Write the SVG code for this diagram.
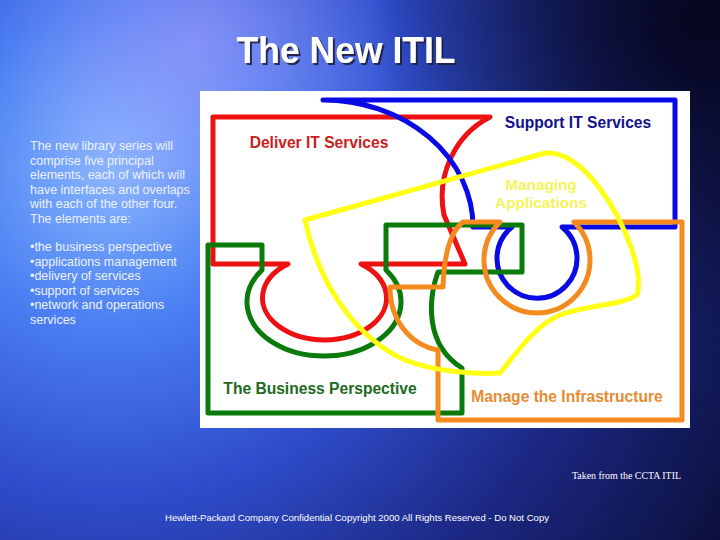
<svg xmlns="http://www.w3.org/2000/svg" width="720" height="540" viewBox="0 0 720 540">
<defs>
<radialGradient id="bg" cx="110" cy="170" r="720" gradientUnits="userSpaceOnUse">
<stop offset="0" stop-color="#86b6ff"/>
<stop offset="0.22" stop-color="#4a7ef2"/>
<stop offset="0.45" stop-color="#2f4dcc"/>
<stop offset="0.7" stop-color="#1c2884"/>
<stop offset="1" stop-color="#0b0f3a"/>
</radialGradient>
<radialGradient id="dark" cx="700" cy="20" r="330" gradientUnits="userSpaceOnUse">
<stop offset="0" stop-color="#05051a" stop-opacity="0.95"/>
<stop offset="1" stop-color="#05051a" stop-opacity="0"/>
</radialGradient>
<radialGradient id="glow" cx="200" cy="40" r="200" gradientUnits="userSpaceOnUse">
<stop offset="0" stop-color="#c9a8ff" stop-opacity="0.45"/>
<stop offset="1" stop-color="#c9a8ff" stop-opacity="0"/>
</radialGradient>
<filter id="shadow" x="-10%" y="-20%" width="130%" height="150%">
<feDropShadow dx="2" dy="2" stdDeviation="0.6" flood-color="#1a1a40" flood-opacity="0.9"/>
</filter>
<style>
.sh{fill:none;stroke-width:5;stroke-linejoin:round;stroke-linecap:round}
.lbl{font-family:"Liberation Sans",Arial,sans-serif;font-weight:bold;text-anchor:middle;font-size:15.6px}
.side{font-family:"Liberation Sans",Arial,sans-serif;font-size:12.5px;fill:#eef2ff}
</style>
</defs>
<rect width="720" height="540" fill="url(#bg)"/>
<rect width="720" height="540" fill="url(#glow)"/>
<rect width="720" height="540" fill="url(#dark)"/>
<g id="title">
<text x="346" y="63" font-family="Liberation Sans,Arial,sans-serif" font-size="36" font-weight="bold" fill="#ffffff" text-anchor="middle" textLength="219" lengthAdjust="spacingAndGlyphs" filter="url(#shadow)">The New ITIL</text>
</g>
<g id="description">
<text class="side" x="30" y="150">The new library series will</text>
<text class="side" x="30" y="164.5">comprise five principal</text>
<text class="side" x="30" y="179">elements, each of which will</text>
<text class="side" x="30" y="193.5">have interfaces and overlaps</text>
<text class="side" x="30" y="208">with each of the other four.</text>
<text class="side" x="30" y="222.5">The elements are:</text>
<text class="side" x="30" y="251">•the business perspective</text>
<text class="side" x="30" y="265.5">•applications management</text>
<text class="side" x="30" y="280">•delivery of  services</text>
<text class="side" x="30" y="294.5">•support of  services</text>
<text class="side" x="30" y="309">•network and operations</text>
<text class="side" x="30" y="323.5">services</text>
</g>
<rect id="panel" x="200" y="91" width="490" height="337" fill="#ffffff"/>
<g id="connectors"></g>
<g id="deliver">
<path class="sh" stroke="#ee1111" d="M213 117 L490 117 C455 135 436 175 444 215 L465 264 L361 264 A62 42 0 1 1 288 264 L213 264 Z"/>
<text class="lbl" x="319" y="148" fill="#cc2020">Deliver IT Services</text>
</g>
<g id="support">
<path class="sh" stroke="#0a0ae6" d="M323 100 L675 100 L675 227 L562 227 A40 40 0 1 1 512 227 L473 227 A150 127 0 0 0 323 100 Z"/>
<text class="lbl" x="578" y="128" fill="#12128c">Support IT Services</text>
</g>
<g id="business">
<path class="sh" stroke="#0a7a0a" d="M208 245 L262 245 L262 270 A77 54 0 1 0 386 270 L386 225 L522 225 L522 272 L438 272 C428 300 425 345 462 368 L462 413 L208 413 Z"/>
<text class="lbl" x="320" y="394" fill="#1e6a1e">The Business Perspective</text>
</g>
<g id="infrastructure">
<path class="sh" stroke="#f58a1e" d="M438 420 L682 420 L682 222 L574 222 A53 53 0 1 1 500 222 L463 222 C450 232 444 255 443 287 L390 287 C390 320 410 345 438 350 Z"/>
<text class="lbl" x="567" y="402" fill="#e88a30">Manage the Infrastructure</text>
</g>
<g id="applications">
<path class="sh" stroke="#ffff14" stroke-width="5.5" d="M305 220 L545 153 C585 150 620 215 632 250 C638 268 640 285 637 295 C620 306 585 305 560 315 C535 325 515 355 500 373 C470 375 430 370 405 360 C360 340 320 290 305 220 Z"/>
<text class="lbl" x="541" y="190" style="font-size:15.3px" fill="#f4f45a">Managing</text>
<text class="lbl" x="541" y="208" style="font-size:15.3px" fill="#f4f45a">Applications</text>
</g>
<g id="footer">
<text x="572" y="479" font-family="Liberation Serif,Times New Roman,serif" font-size="9.5" fill="#ffffff" textLength="109" lengthAdjust="spacingAndGlyphs">Taken from the CCTA ITIL</text>
<text x="165" y="521" font-family="Liberation Sans,Arial,sans-serif" font-size="9" fill="#ffffff" textLength="384" lengthAdjust="spacingAndGlyphs">Hewlett-Packard Company Confidential Copyright 2000 All Rights Reserved - Do Not Copy</text>
</g>
</svg>
